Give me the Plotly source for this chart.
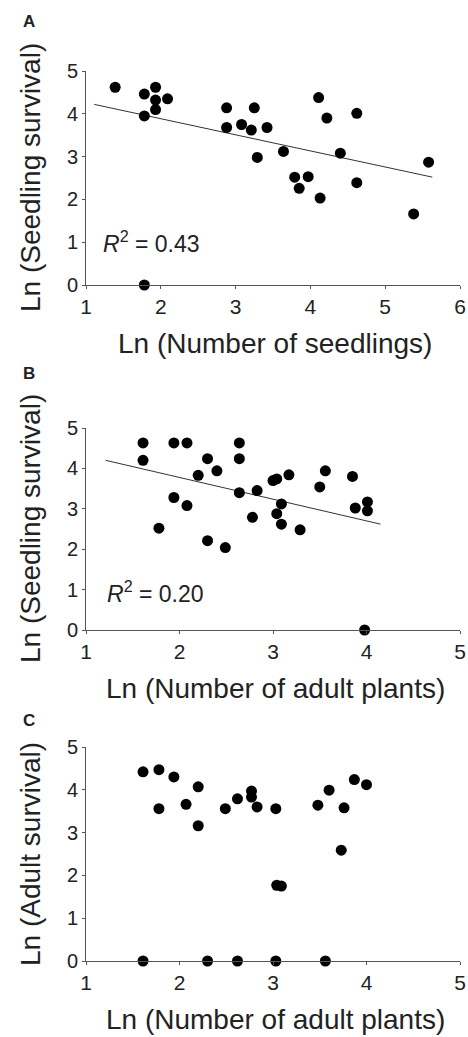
import plotly.graph_objects as go

# Panel A: Ln(Number of seedlings) vs Ln(Seedling survival)
a_x = [1.39, 1.78, 1.78, 1.93, 1.93, 1.93, 2.09, 1.78, 2.88, 2.88, 3.08, 3.21, 3.25, 3.29,
       3.42, 3.64, 3.79, 3.85, 3.97, 4.11, 4.13, 4.22, 4.40, 4.62, 4.62, 5.38, 5.58]
a_y = [4.62, 4.46, 3.95, 4.62, 4.32, 4.10, 4.35, 0.0, 4.14, 3.68, 3.75, 3.62, 4.14, 2.98,
       3.68, 3.12, 2.52, 2.26, 2.53, 4.38, 2.03, 3.90, 3.08, 4.01, 2.39, 1.66, 2.87]
a_trend_x = [1.11, 5.63]
a_trend_y = [4.22, 2.52]

# Panel B: Ln(Number of adult plants) vs Ln(Seedling survival)
b_x = [1.61, 1.61, 1.78, 1.94, 1.94, 2.08, 2.08, 2.20, 2.30, 2.30, 2.40, 2.49, 2.64, 2.64,
       2.64, 2.78, 2.83, 3.00, 3.04, 3.04, 3.09, 3.09, 3.17, 3.29, 3.50, 3.56, 3.85, 3.88,
       4.01, 4.01, 3.98]
b_y = [4.63, 4.20, 2.52, 4.63, 3.28, 4.63, 3.08, 3.83, 4.24, 2.21, 3.94, 2.04, 4.63, 4.24,
       3.40, 2.79, 3.45, 3.70, 3.74, 2.88, 3.12, 2.62, 3.84, 2.48, 3.54, 3.94, 3.80, 3.02,
       3.17, 2.95, 0.0]
b_trend_x = [1.21, 4.15]
b_trend_y = [4.20, 2.62]

# Panel C: Ln(Number of adult plants) vs Ln(Adult survival)
c_x = [1.61, 1.78, 1.78, 1.94, 2.07, 2.20, 2.20, 2.49, 2.62, 2.77, 2.77, 2.83, 3.03, 3.04,
       3.09, 3.48, 3.60, 3.76, 3.73, 3.87, 4.00, 1.61, 2.30, 2.62, 3.03, 3.56]
c_y = [4.42, 4.47, 3.56, 4.30, 3.66, 4.07, 3.16, 3.56, 3.79, 3.97, 3.83, 3.60, 3.56, 1.77,
       1.75, 3.64, 3.99, 3.58, 2.59, 4.24, 4.12, 0.0, 0.0, 0.0, 0.0, 0.0]

r2_labels = ["0.43", "0.20"]
panel_labels = ["A", "B", "C"]
x_titles = ["Ln (Number of seedlings)", "Ln (Number of adult plants)", "Ln (Number of adult plants)"]
y_titles = ["Ln (Seedling survival)", "Ln (Seedling survival)", "Ln (Adult survival)"]
x_ranges = [[1, 6], [1, 5], [1, 5]]

W, H = 468, 1037
FONT = "Liberation Sans, Arial, sans-serif"
INK = "#222222"
AX = "#555555"

def py(px):
    return 1 - px / H

x_dom = [86 / W, 460 / W]
y_doms = [[py(285), py(71)], [py(630), py(428)], [py(961), py(747)]]

fig = go.Figure()

data = [(a_x, a_y, a_trend_x, a_trend_y), (b_x, b_y, b_trend_x, b_trend_y), (c_x, c_y, None, None)]
for i, (xs, ys, tx, ty) in enumerate(data):
    xa = "x" if i == 0 else f"x{i+1}"
    ya = "y" if i == 0 else f"y{i+1}"
    if tx is not None:
        fig.add_trace(go.Scatter(x=tx, y=ty, mode="lines", xaxis=xa, yaxis=ya,
                                 line=dict(color="#333333", width=1), showlegend=False,
                                 hoverinfo="skip"))
    fig.add_trace(go.Scatter(x=xs, y=ys, mode="markers", xaxis=xa, yaxis=ya,
                             marker=dict(color="black", size=11), cliponaxis=False,
                             showlegend=False))

layout = dict(width=W, height=H, margin=dict(l=0, r=0, t=0, b=0),
              paper_bgcolor="white", plot_bgcolor="white",
              font=dict(family=FONT, color=INK))

annotations = []
for i in range(3):
    sfx = "" if i == 0 else str(i + 1)
    layout["xaxis" + sfx] = dict(domain=x_dom, range=x_ranges[i], anchor="y" + sfx,
                                 showgrid=False, zeroline=False, showline=True,
                                 linecolor=AX, linewidth=1, ticks="outside", ticklen=3,
                                 tickcolor=AX, dtick=1, tickfont=dict(size=21, color=INK),
                                 automargin=False)
    layout["yaxis" + sfx] = dict(domain=y_doms[i], range=[0, 5], anchor="x" + sfx,
                                 showgrid=False, zeroline=False, showline=True,
                                 linecolor=AX, linewidth=1, ticks="outside", ticklen=3,
                                 tickcolor=AX, dtick=1, tickfont=dict(size=20, color=INK),
                                 automargin=False)
    top_px = [71, 428, 747][i]
    bot_px = [285, 630, 961][i]
    # x title
    annotations.append(dict(text=x_titles[i], xref="paper", yref="paper",
                            x=275 / W, y=py(bot_px + 58), xanchor="center",
                            yanchor="middle", showarrow=False, font=dict(size=28, color=INK)))
    # y title
    annotations.append(dict(text=y_titles[i], xref="paper", yref="paper",
                            x=30 / W, y=py((top_px + bot_px) / 2), xanchor="center",
                            yanchor="middle", textangle=-90, showarrow=False,
                            font=dict(size=28, color=INK)))
    # panel label
    annotations.append(dict(text="<b>" + panel_labels[i] + "</b>", xref="paper", yref="paper",
                            x=29 / W, y=py([22, 373, 720][i]), xanchor="center",
                            yanchor="middle", showarrow=False, font=dict(size=17, color=INK)))

for i, r2 in enumerate(r2_labels):
    sfx = "" if i == 0 else str(i + 1)
    annotations.append(dict(text="<i>R</i><sup>2</sup> = " + r2, xref="x" + sfx, yref="y" + sfx,
                            x=1.2, y=[1.0, 0.93][i], xanchor="left", yanchor="middle",
                            showarrow=False, font=dict(size=23, color=INK)))

layout["annotations"] = annotations
fig.update_layout(**layout)
fig.write_html("out.html")
